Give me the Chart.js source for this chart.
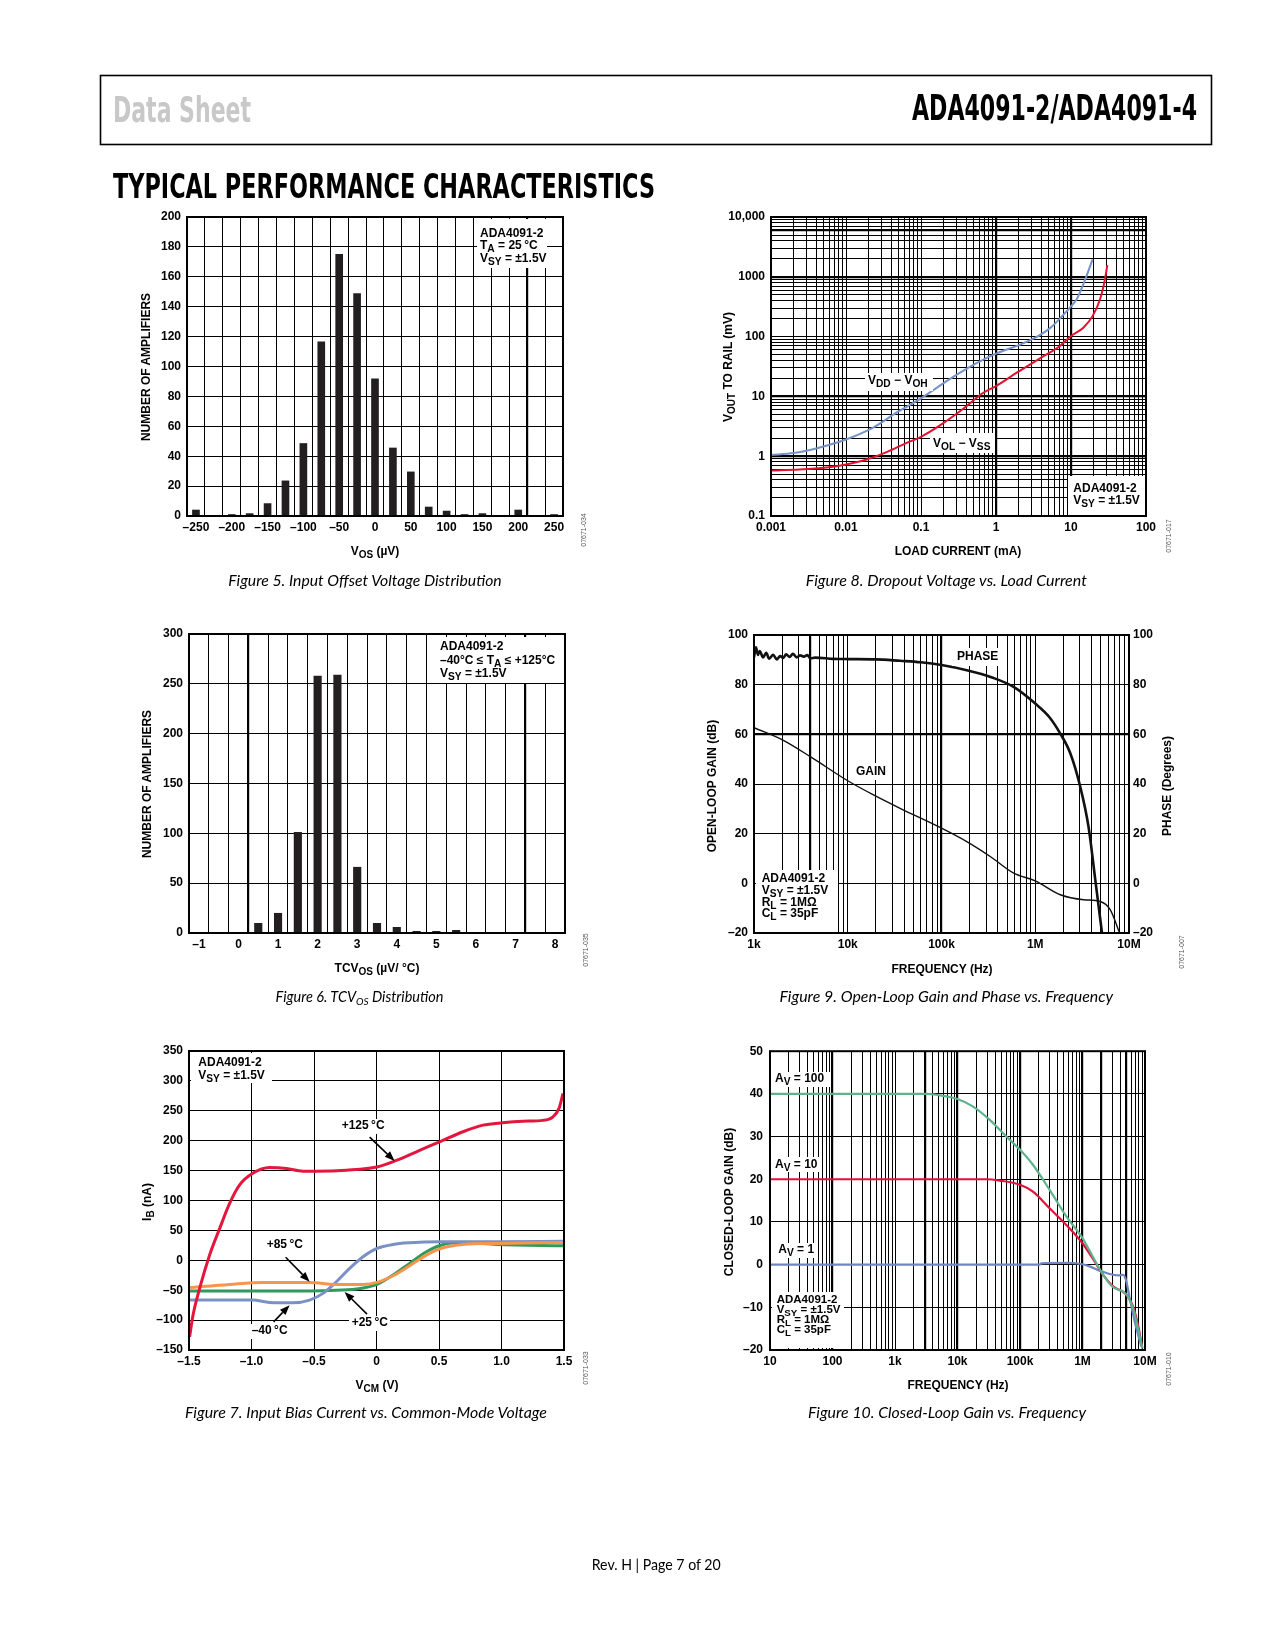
<!DOCTYPE html>
<html>
<head>
<meta charset="utf-8">
<script src="https://cdn.jsdelivr.net/npm/chart.js@4.4.1/dist/chart.umd.min.js"></script>
<style>
  body { margin: 0; background: #fff; }
  #page { position: relative; width: 1275px; height: 1650px; overflow: hidden; background: #fff; }
  .plot { position: absolute; }
  .note { position: absolute; background: #fff; color: #000; white-space: nowrap;
          font-family: "Liberation Sans", Arial, sans-serif; font-weight: bold; }
  .s { position: relative; top: 3px; font-size: 0.85em; }
  #txt { position: absolute; left: 0; top: 0; }
</style>
</head>
<body>
<div id="page">
  <div class="plot" id="w1"></div>
  <div class="plot" id="w2"></div>
  <div class="plot" id="w3"></div>
  <div class="plot" id="w4"></div>
  <div class="plot" id="w5"></div>
  <div class="plot" id="w6"></div>

  <svg id="txt" width="1275" height="1650" viewBox="0 0 1275 1650" font-family="'Liberation Sans', Arial, sans-serif">
    <rect x="100.5" y="75.5" width="1111" height="69" fill="none" stroke="#000" stroke-width="1.6"/>
    <g font-family="'Liberation Sans Narrow', 'DejaVu Sans Condensed', 'Liberation Sans', sans-serif" font-weight="bold">
      <text x="113" y="122" font-size="36" fill="#c8c8c8" textLength="138" lengthAdjust="spacingAndGlyphs">Data Sheet</text>
      <text x="912" y="120" font-size="35" fill="#000" textLength="285" lengthAdjust="spacingAndGlyphs">ADA4091-2/ADA4091-4</text>
      <text x="113" y="197.5" font-size="34" fill="#000" textLength="542" lengthAdjust="spacingAndGlyphs">TYPICAL PERFORMANCE CHARACTERISTICS</text>
    </g>

    <!-- axis titles -->
    <g font-size="12" font-weight="bold" fill="#000" text-anchor="middle">
      <text x="149.5" y="367" transform="rotate(-90 149.5 367)">NUMBER OF AMPLIFIERS</text>
      <text x="375" y="555">V<tspan font-size="10" dy="3">OS</tspan><tspan dy="-3"> (µV)</tspan></text>

      <text x="732" y="367" transform="rotate(-90 732 367)">V<tspan font-size="10" dy="3">OUT</tspan><tspan dy="-3"> TO RAIL (mV)</tspan></text>
      <text x="958" y="555">LOAD CURRENT (mA)</text>

      <text x="151" y="784" transform="rotate(-90 151 784)">NUMBER OF AMPLIFIERS</text>
      <text x="377" y="971.5">TCV<tspan font-size="10" dy="3">OS</tspan><tspan dy="-3"> (µV/ °C)</tspan></text>

      <text x="716" y="786" transform="rotate(-90 716 786)">OPEN-LOOP GAIN (dB)</text>
      <text x="1171" y="786" transform="rotate(-90 1171 786)">PHASE (Degrees)</text>
      <text x="942" y="972.5">FREQUENCY (Hz)</text>

      <text x="150.5" y="1202" transform="rotate(-90 150.5 1202)">I<tspan font-size="10" dy="3">B</tspan><tspan dy="-3"> (nA)</tspan></text>
      <text x="377" y="1389">V<tspan font-size="10" dy="3">CM</tspan><tspan dy="-3"> (V)</tspan></text>

      <text x="732.5" y="1202" transform="rotate(-90 732.5 1202)">CLOSED-LOOP GAIN (dB)</text>
      <text x="958" y="1389">FREQUENCY (Hz)</text>
    </g>

    <!-- figure captions -->
    <g font-family="Lato, 'Open Sans', sans-serif" font-style="italic" font-size="14.5" fill="#000">
      <text x="228.3" y="585.7" textLength="273.4" lengthAdjust="spacingAndGlyphs">Figure 5. Input Offset Voltage Distribution</text>
      <text x="805.8" y="585.7" textLength="281" lengthAdjust="spacingAndGlyphs">Figure 8. Dropout Voltage vs. Load Current</text>
      <text x="275.6" y="1002.3">Figure 6. TCV<tspan font-size="10" dy="3">OS</tspan><tspan dy="-3"> Distribution</tspan></text>
      <text x="779.5" y="1002.3" textLength="333.5" lengthAdjust="spacingAndGlyphs">Figure 9. Open-Loop Gain and Phase vs. Frequency</text>
      <text x="185" y="1417.8" textLength="362" lengthAdjust="spacingAndGlyphs">Figure 7. Input Bias Current vs. Common-Mode Voltage</text>
      <text x="808" y="1417.8" textLength="278" lengthAdjust="spacingAndGlyphs">Figure 10. Closed-Loop Gain vs. Frequency</text>
    </g>
    <text x="591.7" y="1570" font-family="Lato, 'Open Sans', sans-serif" font-size="15" textLength="129" lengthAdjust="spacingAndGlyphs">Rev. H | Page 7 of 20</text>

    <!-- drawing numbers -->
    <g font-size="7" fill="#555" text-anchor="middle">
      <text x="586" y="530" transform="rotate(-90 586 530)">07671-034</text>
      <text x="1171" y="536" transform="rotate(-90 1171 536)">07671-017</text>
      <text x="588" y="950" transform="rotate(-90 588 950)">07671-035</text>
      <text x="1184" y="952" transform="rotate(-90 1184 952)">07671-007</text>
      <text x="588" y="1368" transform="rotate(-90 588 1368)">07671-033</text>
      <text x="1171" y="1369" transform="rotate(-90 1171 1369)">07671-010</text>
    </g>
  </svg>
</div>

<script>
// ---- Figure 5: input offset voltage histogram ----
const vosBins   = [-250, -200, -175, -150, -125, -100, -75, -50, -25, 0, 25, 50, 75, 100, 125, 150, 200, 250];
const vosCounts = [4, 1, 1.6, 8.3, 23.5, 48.5, 116.5, 175, 148.7, 91.7, 45.5, 29.5, 6, 3.3, 1, 1.6, 4, 1];
const vosTicks  = [-250, -200, -150, -100, -50, 0, 50, 100, 150, 200, 250];
const vosTickLabels = ['–250', '–200', '–150', '–100', '–50', '0', '50', '100', '150', '200', '250'];
const ampTicks5 = [0, 20, 40, 60, 80, 100, 120, 140, 160, 180, 200];

// ---- Figure 6: TCVos histogram ----
const tcvBins   = [-0.5, 0.5, 1, 1.5, 2, 2.5, 3, 3.5, 4, 4.5, 5, 5.5, 6, 7];
const tcvCounts = [0.5, 9.7, 19.8, 101, 257.8, 258.8, 66, 9.7, 5.7, 1.7, 1.7, 2.7, 0.5, 0.5];
const tcvTicks  = [-1, 0, 1, 2, 3, 4, 5, 6, 7, 8];
const tcvTickLabels = ['–1', '0', '1', '2', '3', '4', '5', '6', '7', '8'];
const ampTicks6 = [0, 50, 100, 150, 200, 250, 300];

// ---- Figure 7: input bias current vs common-mode voltage ----
const vcm125 = [-1.495, -1.468, -1.415, -1.335, -1.255, -1.175, -1.095, -0.993, -0.855, -0.72, -0.588, -0.48, -0.24, 0.004, 0.159, 0.345, 0.505, 0.692, 0.852, 1.007, 1.172, 1.332, 1.412, 1.46, 1.492];
const ib125  = [-128, -92, -47, 9, 53, 95, 126, 145, 155, 153.5, 149, 149, 150.7, 156, 167, 184, 198, 215, 226, 230, 232.5, 234, 240, 254, 279];
const vcm85  = [-1.5, -1.175, -0.908, -0.535, -0.321, -0.108, 0.004, 0.132, 0.265, 0.399, 0.532, 0.692, 0.96, 1.5];
const ib85   = [-45.9, -40.3, -37, -37, -40.3, -40.3, -37, -25.8, -9.1, 8.7, 20.9, 26.5, 28.2, 29.8];
const vcm25  = [-1.5, -0.908, -0.375, -0.161, 0.004, 0.132, 0.265, 0.399, 0.532, 0.692, 0.96, 1.5];
const ib25   = [-51.4, -51.4, -50.3, -48, -40.3, -24.7, -5.2, 14.3, 26.5, 29.8, 26.5, 24.3];
const vcmM40 = [-1.5, -1.175, -0.99, -0.855, -0.668, -0.535, -0.428, -0.321, -0.215, -0.108, 0.004, 0.132, 0.265, 0.505, 0.96, 1.5];
const ibM40  = [-66.5, -66.5, -66.5, -70.4, -71, -66.5, -55.3, -35.9, -13.6, 5.9, 19.8, 26.5, 29.3, 31, 31, 32];
const vcmTicks = [-1.5, -1, -0.5, 0, 0.5, 1, 1.5];
const vcmTickLabels = ['–1.5', '–1.0', '–0.5', '0', '0.5', '1.0', '1.5'];
const ibTicks = [-150, -100, -50, 0, 50, 100, 150, 200, 250, 300, 350];
const ibTickLabels = ['–150', '–100', '–50', '0', '50', '100', '150', '200', '250', '300', '350'];

// ---- Figure 8: dropout voltage vs load current ----
const loadOH = [0.001, 0.002, 0.004, 0.01, 0.023, 0.05, 0.1, 0.25, 0.55, 1, 1.9, 3.2, 5.3, 7.5, 10, 11.9, 14.6, 19.4];
const voh    = [1.05, 1.13, 1.35, 1.9, 3.0, 5.6, 9.3, 20, 36, 52, 70, 93, 140, 215, 320, 420, 750, 1950];
const loadOL = [0.001, 0.0024, 0.0055, 0.01, 0.0189, 0.0348, 0.0644, 0.1, 0.179, 0.366, 0.678, 1, 1.89, 3.86, 7.13, 10, 14.6, 19.4, 24.4, 28.4, 30.5];
const vol    = [0.575, 0.597, 0.646, 0.725, 0.88, 1.17, 1.67, 2.11, 3.27, 6.2, 11.5, 14.9, 24.9, 43.3, 69.8, 102, 141, 220, 421, 913, 1570];
const loadTicks = [0.001, 0.01, 0.1, 1, 10, 100];
const loadTickLabels = ['0.001', '0.01', '0.1', '1', '10', '100'];
const railTicks = [0.1, 1, 10, 100, 1000, 10000];
const railTickLabels = ['0.1', '1', '10', '100', '1000', '10,000'];

// ---- Figure 9: open-loop gain and phase ----
const olFreq  = [1000, 2055, 4030, 10000, 18800, 36200, 100000, 186000, 331000, 588000, 1e6, 1.85e6, 3.28e6, 4.94e6, 6.3e6, 7.95e6];
const olGain  = [62.7, 57.6, 50.9, 41.3, 35.6, 30.2, 22.2, 16.8, 10.8, 4.1, 1.0, -4.6, -6.6, -7.3, -10.6, -20];
const phFreq  = [1000, 1050, 1100, 1150, 1250, 1350, 1450, 1600, 1750, 1900, 2050, 2200, 2400, 2600, 2850, 3100, 3400, 3700, 4000, 4500, 7000, 10000, 20000, 36200, 60000, 100000, 186000, 359000, 588000, 1e6, 1.41e6, 1.85e6, 2.37e6, 3.02e6, 3.7e6, 4.37e6, 5.15e6];
const phase   = [91, 95, 92, 93.5, 91, 92.8, 90.5, 92, 90.2, 91.5, 90.8, 92.2, 91.2, 92.4, 91, 91.8, 91.3, 91.9, 90.6, 90.9, 90.4, 90.3, 90.2, 89.6, 89, 87.9, 85.8, 82.7, 79.1, 72.4, 67, 60.3, 52.3, 38.9, 22.8, 1.4, -20];
const olFreqTicks = [1e3, 1e4, 1e5, 1e6, 1e7];
const olFreqLabels = ['1k', '10k', '100k', '1M', '10M'];
const dbTicks9 = [-20, 0, 20, 40, 60, 80, 100];
const dbTickLabels9 = ['–20', '0', '20', '40', '60', '80', '100'];

// ---- Figure 10: closed-loop gain ----
const av100Freq = [10, 3170, 4580, 10000, 17800, 32800, 60400, 100000, 161000, 298000, 551000, 1e6, 1.48e6, 2.14e6, 3.09e6, 4.47e6, 5.35e6, 6.43e6, 7.72e6, 9.06e6];
const av100Gain = [40, 40, 39.8, 38.8, 37, 33.9, 30, 26.9, 23.4, 17.5, 11.3, 6.2, 1.7, -2.4, -5.3, -6.3, -7.5, -10.2, -14.9, -19.6];
const av10Freq  = [10, 28900, 47300, 100000, 161000, 298000, 551000, 1e6, 1.48e6, 2.14e6, 3.09e6, 4.47e6, 5.35e6, 6.43e6, 7.72e6, 9.06e6];
const av10Gain  = [20, 20, 19.7, 18.7, 17.1, 13.2, 9.3, 5.0, 1.3, -2.4, -5.1, -6.4, -7.5, -9.8, -14.1, -19.6];
const av1Freq   = [10, 207000, 220000, 551000, 906000, 1.3e6, 1.88e6, 2.72e6, 3.7e6, 4.47e6, 5.02e6, 5.68e6, 6.84e6, 8.73e6];
const av1Gain   = [0, 0, 0.3, 0.4, 0.2, -0.4, -1.4, -2.2, -2.5, -2.4, -3.9, -7.8, -13.3, -19.2];
const clFreqTicks = [10, 100, 1e3, 1e4, 1e5, 1e6, 1e7];
const clFreqLabels = ['10', '100', '1k', '10k', '100k', '1M', '10M'];
const dbTicks10 = [-20, -10, 0, 10, 20, 30, 40, 50];
const dbTickLabels10 = ['–20', '–10', '0', '10', '20', '30', '40', '50'];

// ---------------------------------------------------------------
Chart.defaults.font.family = '"Liberation Sans", Arial, sans-serif';
Chart.defaults.font.weight = 'bold';
Chart.defaults.font.size = 12;
Chart.defaults.color = '#000';

const page = document.getElementById('page');

// plot areas on the page
const P1 = { l: 187, t: 217, r: 563, b: 516 };
const P2 = { l: 771, t: 217, r: 1146, b: 516 };
const P3 = { l: 189, t: 634, r: 565, b: 933 };
const P4 = { l: 754, t: 635, r: 1129, b: 933 };
const P5 = { l: 189, t: 1051, r: 564, b: 1350 };
const P6 = { l: 770, t: 1051, r: 1145, b: 1350 };
const M  = { l: 72, t: 14, r: 24, b: 30 };
const M4 = { l: 72, t: 14, r: 45, b: 30, rightAxis: true };

const pts = (xs, ys) => xs.map((x, i) => ({ x, y: ys[i] }));
const same = (a, b) => a === b || Math.abs(a - b) <= 1e-7 * Math.max(Math.abs(a), Math.abs(b));

function steps(a, b, d) {
  const out = [];
  for (let v = a; v <= b + d / 1000; v += d) out.push(Math.round(v * 1e6) / 1e6);
  return out;
}
function logGrid(e0, e1) {
  const out = [];
  for (let e = e0; e < e1; e++) for (let k = 1; k < 10; k++) out.push(k * Math.pow(10, e));
  out.push(Math.pow(10, e1));
  return out;
}

function axis(o) {
  const labels = o.labels || [];
  const all = o.lines.concat(labels).sort((a, b) => a - b).filter((v, i, arr) => i === 0 || !same(v, arr[i - 1]));
  return {
    type: o.type || 'linear', position: o.pos, min: o.min, max: o.max, offset: false,
    afterFit: s => { if (s.isHorizontal()) s.height = o.size; else s.width = o.size; },
    afterBuildTicks: s => { s.ticks = all.map(v => ({ value: v })); },
    ticks: {
      autoSkip: false, maxRotation: 0, minRotation: 0, padding: o.pad, color: '#000',
      font: { size: 12, weight: 'bold' },
      callback: v => { const i = labels.findIndex(t => same(t, v)); return i < 0 ? '' : o.text[i]; }
    },
    grid: {
      display: o.grid !== false, drawTicks: false, offset: false,
      color: c => (c.tick && o.lines.some(t => same(t, c.tick.value))) ? '#000' : 'rgba(0,0,0,0)',
      lineWidth: c => (c.tick && (o.heavy || []).some(t => same(t, c.tick.value))) ? 2.2 : 1
    },
    border: { display: false }
  };
}

const framePlugin = {
  id: 'frame',
  afterDraw(chart) {
    const a = chart.chartArea, c = chart.ctx;
    c.save();
    c.strokeStyle = '#000';
    c.lineWidth = 2;
    c.strokeRect(a.left, a.top, a.right - a.left, a.bottom - a.top);
    c.restore();
  }
};

const arrowPlugin = {
  id: 'arrows',
  afterDatasetsDraw(chart, args, opts) {
    const list = (opts && opts.list) || [];
    const xs = chart.scales.x, ys = chart.scales.y, c = chart.ctx;
    list.forEach(a => {
      const x0 = xs.getPixelForValue(a.from[0]), y0 = ys.getPixelForValue(a.from[1]);
      const x1 = xs.getPixelForValue(a.to[0]), y1 = ys.getPixelForValue(a.to[1]);
      const ang = Math.atan2(y1 - y0, x1 - x0), L = 10, W = 3.8;
      const cs = Math.cos(ang), sn = Math.sin(ang);
      c.save();
      c.strokeStyle = '#000'; c.fillStyle = '#000'; c.lineWidth = 1.6;
      c.beginPath(); c.moveTo(x0, y0); c.lineTo(x1 - L * cs, y1 - L * sn); c.stroke();
      c.beginPath();
      c.moveTo(x1, y1);
      c.lineTo(x1 - L * cs + W * sn, y1 - L * sn - W * cs);
      c.lineTo(x1 - L * cs - W * sn, y1 - L * sn + W * cs);
      c.closePath(); c.fill();
      c.restore();
    });
  }
};

function draw(id, box, m, type, datasets, scales, extra) {
  const wrap = document.getElementById(id);
  const w = box.r - box.l + m.l + m.r, h = box.b - box.t + m.t + m.b;
  wrap.style.left = (box.l - m.l) + 'px';
  wrap.style.top = (box.t - m.t) + 'px';
  const cv = document.createElement('canvas');
  cv.width = w; cv.height = h;
  cv.style.width = w + 'px'; cv.style.height = h + 'px';
  wrap.appendChild(cv);
  return new Chart(cv, {
    type: type,
    data: { datasets: datasets },
    options: {
      responsive: false, animation: false,
      layout: { padding: { top: m.t, right: m.rightAxis ? 0 : m.r, left: 0, bottom: 0 } },
      elements: { point: { radius: 0 } },
      scales: scales,
      plugins: Object.assign({ legend: { display: false }, tooltip: { enabled: false } }, extra || {})
    },
    plugins: [framePlugin, arrowPlugin]
  });
}

function line(xs, ys, color, width, yAxis) {
  return { data: pts(xs, ys), borderColor: color, borderWidth: width, fill: false,
           cubicInterpolationMode: 'monotone', pointRadius: 0, yAxisID: yAxis || 'y' };
}

// Figure 5
draw('w1', P1, M, 'bar',
  [{ data: pts(vosBins, vosCounts), backgroundColor: '#231f20', barThickness: 7, grouped: false }],
  {
    x: axis({ pos: 'bottom', min: -262.5, max: 262.5, size: M.b, pad: 4, lines: steps(-262.5, 262.5, 25),
              labels: vosTicks, text: vosTickLabels, heavy: [212.5] }),
    y: axis({ pos: 'left', min: 0, max: 200, size: M.l, pad: 6, lines: ampTicks5,
              labels: ampTicks5, text: ampTicks5.map(String) })
  });

// Figure 8
draw('w2', P2, M, 'line',
  [line(loadOH, voh, '#7592c6', 2), line(loadOL, vol, '#e3112f', 2)],
  {
    x: axis({ type: 'logarithmic', pos: 'bottom', min: 0.001, max: 100, size: M.b, pad: 4,
              lines: logGrid(-3, 2), labels: loadTicks, text: loadTickLabels, heavy: [1, 10] }),
    y: axis({ type: 'logarithmic', pos: 'left', min: 0.1, max: 10000, size: M.l, pad: 6,
              lines: logGrid(-1, 4), labels: railTicks, text: railTickLabels, heavy: [1, 10, 1000, 6000] })
  });

// Figure 6
draw('w3', P3, M, 'bar',
  [{ data: pts(tcvBins, tcvCounts), backgroundColor: '#231f20', barThickness: 7.5, grouped: false }],
  {
    x: axis({ pos: 'bottom', min: -1.25, max: 8.25, size: M.b, pad: 4, lines: steps(-1.25, 8.25, 0.5),
              labels: tcvTicks, text: tcvTickLabels, heavy: [0.25, 7.25] }),
    y: axis({ pos: 'left', min: 0, max: 300, size: M.l, pad: 6, lines: ampTicks6,
              labels: ampTicks6, text: ampTicks6.map(String) })
  });

// Figure 9
draw('w4', P4, M4, 'line',
  [line(olFreq, olGain, '#111', 1.4), line(phFreq, phase, '#111', 2.6, 'y2')],
  {
    x: axis({ type: 'logarithmic', pos: 'bottom', min: 1e3, max: 1e7, size: M4.b, pad: 4,
              lines: logGrid(3, 7), labels: olFreqTicks, text: olFreqLabels, heavy: [4000, 100000] }),
    y: axis({ pos: 'left', min: -20, max: 100, size: M4.l, pad: 6, lines: dbTicks9,
              labels: dbTicks9, text: dbTickLabels9, heavy: [60] }),
    y2: axis({ pos: 'right', min: -20, max: 100, size: M4.r, pad: 4, lines: dbTicks9,
               labels: dbTicks9, text: dbTickLabels9, grid: false })
  });

// Figure 7
draw('w5', P5, M, 'line',
  [line(vcm125, ib125, '#e3173d', 3), line(vcm85, ib85, '#f7964a', 3),
   line(vcmM40, ibM40, '#7b91c3', 3), line(vcm25, ib25, '#2f9a5c', 3)],
  {
    x: axis({ pos: 'bottom', min: -1.5, max: 1.5, size: M.b, pad: 4, lines: vcmTicks,
              labels: vcmTicks, text: vcmTickLabels }),
    y: axis({ pos: 'left', min: -150, max: 350, size: M.l, pad: 6, lines: ibTicks,
              labels: ibTicks, text: ibTickLabels })
  },
  { arrows: { list: [
      { from: [-0.055, 206], to: [0.145, 166] },
      { from: [-0.727, 5], to: [-0.535, -36] },
      { from: [-0.076, -90], to: [-0.255, -53] },
      { from: [-0.823, -103], to: [-0.695, -75] }
  ] } });

// Figure 10
draw('w6', P6, M, 'line',
  [line(av100Freq, av100Gain, '#5fb38c', 2.2), line(av10Freq, av10Gain, '#e3113a', 2.2),
   line(av1Freq, av1Gain, '#6f87c1', 2.2)],
  {
    x: axis({ type: 'logarithmic', pos: 'bottom', min: 10, max: 1e7, size: M.b, pad: 4,
              lines: logGrid(1, 7), labels: clFreqTicks, text: clFreqLabels,
              heavy: [100, 3000, 10000, 100000, 1e6, 2e6, 5e6] }),
    y: axis({ pos: 'left', min: -20, max: 50, size: M.l, pad: 7, lines: dbTicks10,
              labels: dbTicks10, text: dbTickLabels10 })
  });

// ---- in-plot labels (white boxes over the grid) ----
function note(box, tx, base, gap, lines, fs) {
  fs = fs || 12;
  const lh = gap || Math.round(fs * 1.1);
  const off = (lh - 1.117 * fs) / 2 + 0.905 * fs;
  const d = document.createElement('div');
  d.className = 'note';
  d.style.cssText = `left:${box[0]}px;top:${box[1]}px;width:${box[2]}px;height:${box[3]}px;font-size:${fs}px;`;
  const inner = document.createElement('div');
  inner.style.cssText = `position:absolute;left:${tx - box[0]}px;top:${base - off - box[1]}px;line-height:${lh}px;`;
  inner.innerHTML = lines.map(s => `<div style="height:${lh}px">${s}</div>`).join('');
  d.appendChild(inner);
  page.appendChild(d);
}
const sub = t => `<span class="s">${t}</span>`;

note([477, 219, 70, 49], 480, 237.3, 12.7, ['ADA4091-2', `T${sub('A')} = 25\u2009°C`, `V${sub('SY')} = ±1.5V`]);

note([865, 373, 68, 18], 868, 385, 0, [`V${sub('DD')} − V${sub('OH')}`]);
note([930, 433, 65, 20], 933, 447.3, 0, [`V${sub('OL')} − V${sub('SS')}`]);
note([1068, 476, 77, 39], 1073.3, 493.3, 11.7, ['ADA4091-2', `V${sub('SY')} = ±1.5V`]);

note([436, 637, 127, 46], 440, 651, 13.6, ['ADA4091-2', `–40°C ≤ T${sub('A')} ≤ +125°C`, `V${sub('SY')} = ±1.5V`]);

note([952, 648, 48, 18], 957, 660.7, 0, ['PHASE']);
note([853, 763, 36, 17], 856, 776, 0, ['GAIN']);
note([756, 870, 82, 62], 761.7, 883.3, 11.7, ['ADA4091-2', `V${sub('SY')} = ±1.5V`, `R${sub('L')} = 1MΩ`, `C${sub('L')} = 35pF`]);

note([191, 1053, 81, 30], 198.3, 1066.7, 12.3, ['ADA4091-2', `V${sub('SY')} = ±1.5V`]);
note([339, 1119, 47, 15], 341.7, 1130, 0, ['+125\u2009°C']);
note([264, 1237, 39, 15], 266.7, 1248.3, 0, ['+85\u2009°C']);
note([349, 1316, 41, 15], 351.7, 1326.7, 0, ['+25\u2009°C']);
note([249, 1324, 41, 15], 251.7, 1335, 0, ['–40\u2009°C']);

note([772, 1072, 58, 15], 775, 1082.3, 0, [`A${sub('V')} = 100`]);
note([772, 1157, 50, 15], 775, 1168.3, 0, [`A${sub('V')} = 10`]);
note([775, 1243, 42, 15], 778.3, 1254, 0, [`A${sub('V')} = 1`]);
note([772, 1292, 72, 56], 776.7, 1303.3, 10, ['ADA4091-2', `V${sub('SY')} = ±1.5V`, `R${sub('L')} = 1MΩ`, `C${sub('L')} = 35pF`], 11.5);
</script>
</body>
</html>
